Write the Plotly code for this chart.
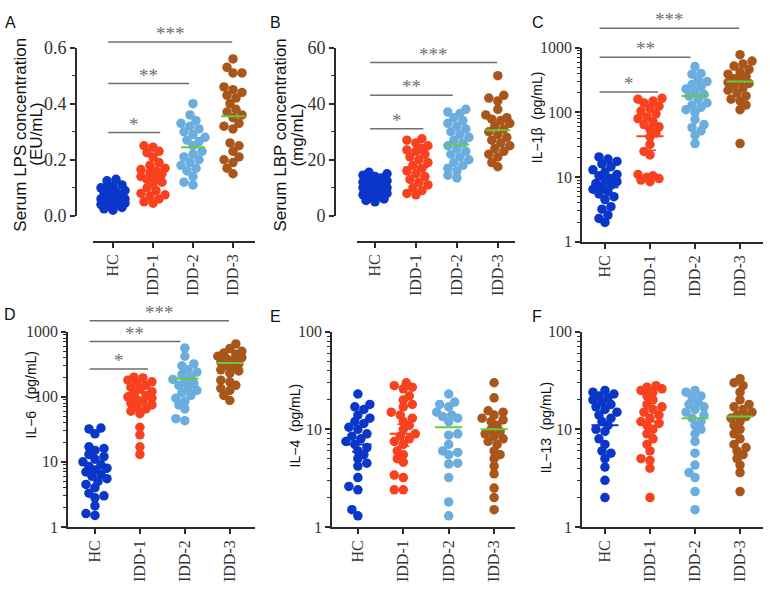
import numpy as np
import plotly.graph_objects as go

W, H = 770, 591

groups = ["HC", "IDD-1", "IDD-2", "IDD-3"]
dot_colors = ["#0a37c9", "#f8411f", "#6badde", "#a8561a"]
mean_colors = ["#0a37c9", "#f8411f", "#63cc3a", "#63cc3a"]

# A - serum LPS (EU/mL)
lps_hc = [0.13, 0.125, 0.11, 0.105, 0.10, 0.095, 0.09, 0.085, 0.08, 0.08, 0.075, 0.07, 0.065,
          0.06, 0.06, 0.055, 0.05, 0.05, 0.045, 0.04, 0.04, 0.035, 0.03, 0.025, 0.02]
lps_idd1 = [0.25, 0.245, 0.23, 0.225, 0.21, 0.19, 0.18, 0.17, 0.165, 0.16, 0.155, 0.15, 0.14,
            0.135, 0.13, 0.12, 0.115, 0.10, 0.09, 0.08, 0.075, 0.07, 0.06, 0.05, 0.045]
lps_idd2 = [0.40, 0.36, 0.34, 0.33, 0.32, 0.31, 0.30, 0.29, 0.28, 0.27, 0.265, 0.25, 0.23,
            0.22, 0.21, 0.20, 0.19, 0.18, 0.17, 0.16, 0.14, 0.12, 0.11]
lps_idd3 = [0.56, 0.53, 0.51, 0.51, 0.46, 0.45, 0.44, 0.43, 0.42, 0.40, 0.38, 0.37, 0.36,
            0.35, 0.33, 0.32, 0.31, 0.26, 0.25, 0.23, 0.21, 0.20, 0.19, 0.17, 0.15]
lps_mean = [0.06, 0.138, 0.245, 0.355]
lps_sig = [0.297, 0.472, 0.62]

# B - serum LBP (mg/mL)
lbp_hc = [15.5, 15, 14.5, 14, 13.5, 13, 12.5, 12, 11.5, 11, 10.5, 10, 10, 9.5, 9, 8.5, 8,
          7.5, 7, 6.5, 6, 5.5, 5]
lbp_idd1 = [27.5, 27, 26, 25, 24, 23.5, 23, 22, 21, 20, 19, 18, 17, 16, 15, 14, 13, 12, 11,
            10, 9, 8, 7.5]
lbp_idd2 = [38, 37, 36.5, 35, 34, 33, 32, 31, 30, 29, 28, 27, 26, 25, 24, 23, 22, 21, 20, 19,
            18, 17, 16, 14.5, 13.5]
lbp_idd3 = [50, 43, 42, 41, 38, 36, 35, 34.5, 34, 33, 32, 31, 30, 29, 28, 27, 26, 25, 24, 23,
            22, 21, 19, 17.5]
lbp_mean = [10.2, 17.3, 25.4, 30.5]
lbp_sig = [31.1, 43.0, 54.7]

# C - IL-1beta (pg/mL)
il1b_hc = [20.5, 19, 17.5, 16, 14.5, 13, 12, 11, 10.5, 9.5, 9, 8.5, 8, 7.5, 7, 6.5, 6, 5.5,
           5, 4.5, 3.5, 3.2, 2.6, 2.3, 2.0]
il1b_idd1 = [165, 160, 150, 140, 125, 115, 105, 95, 85, 80, 72, 65, 60, 55, 48, 42, 32, 25,
             22, 11, 10.5, 10, 9.5, 9, 8.5]
il1b_idd2 = [510, 400, 390, 320, 300, 270, 250, 230, 210, 190, 180, 160, 140, 130, 120, 110,
             100, 78, 65, 58, 52, 44, 33]
il1b_idd3 = [780, 620, 560, 520, 460, 420, 390, 360, 330, 310, 290, 280, 260, 240, 220, 200,
             180, 160, 150, 130, 110, 33]
il1b_mean = [7, 43, 180, 300]
il1b_sem = [1.2, 17, 0, 0]
il1b_sig = [206, 710, 1990]

# D - IL-6 (pg/mL)
il6_hc = [33, 32, 27, 17, 16, 15, 13, 12, 11, 10, 9, 8.5, 8, 7.5, 7, 6.5, 6, 5.5, 5, 4.5, 4,
          3.3, 3, 2.8, 2.1, 1.6, 1.5]
il6_idd1 = [200, 195, 180, 170, 160, 150, 140, 130, 120, 110, 105, 100, 95, 90, 85, 80, 75,
            70, 65, 60, 55, 34, 26, 17, 13]
il6_idd2 = [560, 420, 320, 300, 260, 240, 220, 200, 185, 170, 160, 150, 135, 125, 115, 105,
            95, 85, 75, 65, 46, 43]
il6_idd3 = [650, 550, 500, 470, 450, 420, 400, 380, 360, 340, 320, 300, 280, 260, 250, 230,
            180, 170, 150, 135, 125, 105, 88]
il6_mean = [7, 80, 190, 330]
il6_sig = [268, 705, 1480]

# E - IL-4 (pg/mL)
il4_hc = [23, 18, 17, 16, 14, 13, 12, 11.5, 10.5, 10, 9, 8.5, 8, 7.5, 7, 6.5, 6, 5.5, 5,
          4.5, 4.2, 3.2, 2.6, 2.4, 1.5, 1.3]
il4_idd1 = [30, 28, 27, 26, 22, 20, 18, 17, 15, 14, 13, 12, 11, 10, 9, 8.5, 8, 7.5, 7, 6,
            5.5, 5, 4.6, 3.4, 3.2, 2.4, 2.4]
il4_idd2 = [23, 19, 18, 17, 15, 14, 13.5, 13, 12, 9, 8.7, 7, 6, 5.8, 5.5, 4.5, 4.4, 3.2,
            1.8, 1.3]
il4_idd3 = [30, 21, 15.5, 15, 14, 13, 12.5, 12, 11, 10, 9.5, 9, 8.5, 8, 7.5, 7, 6, 5.5, 5,
            4.2, 3.5, 2.5, 2.0, 1.5]
il4_mean = [7, 9, 10.5, 10]
il4_sem = [1.1, 2.3, 0, 0]

# F - IL-13 (pg/mL)
il13_hc = [25, 24, 23, 22, 21, 20, 19, 18, 17, 16, 15, 14, 13, 12, 11, 10, 9.5, 8, 7, 6,
           5.7, 5, 4.1, 3, 2]
il13_idd1 = [28, 27, 26, 25, 24, 22, 20, 18, 17, 16, 15, 14, 13, 12, 11.5, 11, 10, 9, 8, 7,
             6, 5, 4.8, 4, 2]
il13_idd2 = [25, 24, 22, 21, 19, 18, 17, 16, 15, 14, 13, 12, 11, 10, 9, 7.5, 5.7, 4.3, 3.6,
             3.2, 2.3, 1.5]
il13_idd3 = [33, 30, 28, 24, 20, 18, 17, 16, 15, 14, 13.5, 13, 12, 11, 10, 9, 8, 7, 6.5, 6,
             5.5, 5, 4.3, 3.6, 2.3]
il13_mean = [11, 12, 13, 13.5]

stars = ["*", "**", "***"]

# pixel geometry of each panel: plot box (left, right, top, bottom), where the axes sit
panels = [
    dict(letter="A", data=[lps_hc, lps_idd1, lps_idd2, lps_idd3], mean=lps_mean, sem=None,
         sig=lps_sig, log=False, yr=[0, 0.6], ytick=0.2, ymin=0.1, fmt=".1f", tfs=18,
         title=["Serum LPS concentration", "(EU/mL)"], tsize=17, tx=[21, 37], ty=129,
         box=(93, 255, 39, 213), yx=76, xy=240, xr=[-0.5, 3.55], lpos=(10, 13)),
    dict(letter="B", data=[lbp_hc, lbp_idd1, lbp_idd2, lbp_idd3], mean=lbp_mean, sem=None,
         sig=lbp_sig, log=False, yr=[0, 60], ytick=20, ymin=10, fmt="d", tfs=18,
         title=["Serum LBP concentration", "(mg/mL)"], tsize=17, tx=[281, 298], ty=130,
         box=(357, 515, 39, 213), yx=335, xy=240, xr=[-0.44, 3.42], lpos=(275, 13)),
    dict(letter="C", data=[il1b_hc, il1b_idd1, il1b_idd2, il1b_idd3], mean=il1b_mean,
         sem=il1b_sem, sig=il1b_sig, log=True, yr=[0, 3], tfs=16,
         title=["IL\u22121\u03b2\u00a0 (pg/mL)"], tsize=14, tx=[537], ty=111,
         box=(582, 763, 39, 240), yx=582, xy=240, xr=[-0.51, 3.51], lpos=(538, 13)),
    dict(letter="D", data=[il6_hc, il6_idd1, il6_idd2, il6_idd3], mean=il6_mean, sem=None,
         sig=il6_sig, log=True, yr=[0, 3], tfs=16,
         title=["IL\u22126\u00a0\u00a0 (pg/mL)"], tsize=14, tx=[31], ty=398,
         box=(68, 255, 333, 535), yx=68, xy=535, xr=[-0.6, 3.56], lpos=(10, 315)),
    dict(letter="E", data=[il4_hc, il4_idd1, il4_idd2, il4_idd3], mean=il4_mean, sem=il4_sem,
         sig=None, log=True, yr=[0, 2], tfs=16,
         title=["IL\u22124\u00a0 (pg/mL)"], tsize=14, tx=[295], ty=430,
         box=(332, 515, 333, 535), yx=332, xy=535, xr=[-0.57, 3.46], lpos=(275, 317)),
    dict(letter="F", data=[il13_hc, il13_idd1, il13_idd2, il13_idd3], mean=il13_mean, sem=None,
         sig=None, log=True, yr=[0, 2], tfs=16,
         title=["IL\u221213\u00a0 (pg/mL)"], tsize=14, tx=[546], ty=433,
         box=(582, 763, 333, 535), yx=582, xy=535, xr=[-0.51, 3.51], lpos=(537, 317)),
]

AX = "#2b2b2b"
SERIF = "Liberation Serif, Times New Roman, serif"
SANS = "Liberation Sans, Arial, sans-serif"


def swarm(ypx, min_d=7.0, step=3.0, max_off=14):
    # simple beeswarm: put each dot at the first free horizontal slot
    cands = [0.0]
    k = 1
    while k * step <= max_off:
        cands += [k * step, -k * step]
        k += 1
    offs = np.zeros(len(ypx))
    placed = []
    for n, i in enumerate(np.argsort(ypx)):
        order = cands if n % 2 == 0 else [-c for c in cands]
        best, best_gap = 0.0, -1.0
        for c in order:
            gap = min([np.hypot(c - px, ypx[i] - py) for px, py in placed], default=1e9)
            if gap >= min_d:
                best = c
                break
            if gap > best_gap:
                best_gap, best = gap, c
        offs[i] = best
        placed.append((best, ypx[i]))
    return offs


fig = go.Figure()
layout = dict(width=W, height=H, margin=dict(l=0, r=0, t=0, b=0), showlegend=False,
              paper_bgcolor="white", plot_bgcolor="white")
shapes, annotations = [], []

for n, p in enumerate(panels, start=1):
    sfx = "" if n == 1 else str(n)
    xa, ya = "x" + sfx, "y" + sfx
    left, right, top, bottom = p["box"]
    xdom = [left / W, right / W]
    ydom = [1 - bottom / H, 1 - top / H]
    r0, r1 = p["yr"]
    px_per_cat = (right - left) / (p["xr"][1] - p["xr"][0])
    px_per_y = (bottom - top) / (r1 - r0)

    def yfun(v, log=p["log"]):
        return np.log10(v) if log else np.asarray(v, dtype=float)

    def ypaper(v):
        return ydom[0] + (float(yfun(v)) - r0) / (r1 - r0) * (ydom[1] - ydom[0])

    def xpaper(i):
        return xdom[0] + (i - p["xr"][0]) / (p["xr"][1] - p["xr"][0]) * (xdom[1] - xdom[0])

    for g, vals in enumerate(p["data"]):
        ypx = yfun(vals) * px_per_y
        offs = swarm(ypx) / px_per_cat
        fig.add_trace(go.Scatter(
            x=g + offs, y=vals, mode="markers", xaxis=xa, yaxis=ya, cliponaxis=False,
            marker=dict(size=9.5, color=dot_colors[g], line=dict(width=0)), hoverinfo="skip"))
    for g, m in enumerate(p["mean"]):
        fig.add_trace(go.Scatter(
            x=[g - 0.3, g + 0.3], y=[m, m], mode="lines", xaxis=xa, yaxis=ya,
            line=dict(color=mean_colors[g], width=2), hoverinfo="skip"))
        if p["sem"] and p["sem"][g] > 0:
            fig.add_trace(go.Scatter(
                x=[g], y=[m], mode="markers", xaxis=xa, yaxis=ya, marker=dict(size=1, opacity=0),
                error_y=dict(type="data", array=[p["sem"][g]], color=mean_colors[g],
                             thickness=1.5, width=6), hoverinfo="skip"))

    xaxis = dict(domain=xdom, range=p["xr"], tickmode="array", tickvals=list(range(4)),
                 ticktext=groups, tickangle=-90, ticks="outside", ticklen=5, tickwidth=1.5,
                 tickcolor=AX, showline=True, linecolor=AX, linewidth=2, showgrid=False,
                 zeroline=False, fixedrange=True,
                 tickfont=dict(family=SERIF, size=16, color="#333333"))
    yaxis = dict(domain=ydom, showline=True, linecolor=AX, linewidth=1.8, ticks="outside",
                 ticklen=5, tickwidth=1.5, tickcolor=AX, showgrid=False, zeroline=False,
                 fixedrange=True, tickfont=dict(family=SERIF, size=p["tfs"], color="#333333"))
    if p["log"]:
        yaxis.update(type="log", range=p["yr"], tickmode="linear", tick0=0, dtick=1,
                     exponentformat="none",
                     minor=dict(ticks="outside", ticklen=3, tickwidth=1, tickcolor=AX,
                                dtick="D1", showgrid=False))
    else:
        yaxis.update(range=p["yr"], tickmode="linear", tick0=0, dtick=p["ytick"],
                     tickformat=p["fmt"],
                     minor=dict(ticks="outside", ticklen=3, tickwidth=1, tickcolor=AX,
                                dtick=p["ymin"], showgrid=False))
    if p["yx"] != left:
        yaxis.update(anchor="free", position=p["yx"] / W)
    else:
        yaxis.update(anchor=xa)
    if p["xy"] != bottom:
        xaxis.update(anchor="free", position=1 - p["xy"] / H)
    else:
        xaxis.update(anchor=ya)
    layout["xaxis" + sfx] = xaxis
    layout["yaxis" + sfx] = yaxis

    # significance bars: HC against each IDD group
    if p["sig"]:
        ends = [1.18, 1.9, 2.98]
        for k, h in enumerate(p["sig"]):
            x0, x1 = xpaper(-0.12), xpaper(ends[k])
            y = ypaper(h)
            shapes.append(dict(type="line", xref="paper", yref="paper", x0=x0, x1=x1, y0=y, y1=y,
                               line=dict(color="#6e6e6e", width=1.5)))
            annotations.append(dict(x=(x0 + x1) / 2, y=y, xref="paper", yref="paper",
                                    text=stars[k], showarrow=False, xanchor="center",
                                    yanchor="bottom", yshift=-4,
                                    font=dict(family=SERIF, size=19, color="#707070")))

    for line, tx in zip(p["title"], p["tx"]):
        annotations.append(dict(x=tx / W, y=1 - p["ty"] / H, xref="paper", yref="paper",
                                text=line, textangle=-90, showarrow=False, xanchor="center",
                                yanchor="middle",
                                font=dict(family=SANS, size=p["tsize"], color="#111111")))
    lx, ly = p["lpos"]
    annotations.append(dict(x=lx / W, y=1 - ly / H, xref="paper", yref="paper", text=p["letter"],
                            showarrow=False, xanchor="center", yanchor="middle",
                            font=dict(family=SANS, size=16, color="#111111")))

layout["shapes"] = shapes
layout["annotations"] = annotations
fig.update_layout(**layout)
# the page body keeps the browser's default 8px margin otherwise
fig.write_html("out.html", config={"displayModeBar": False},
               post_script="document.body.style.margin = '0';")
